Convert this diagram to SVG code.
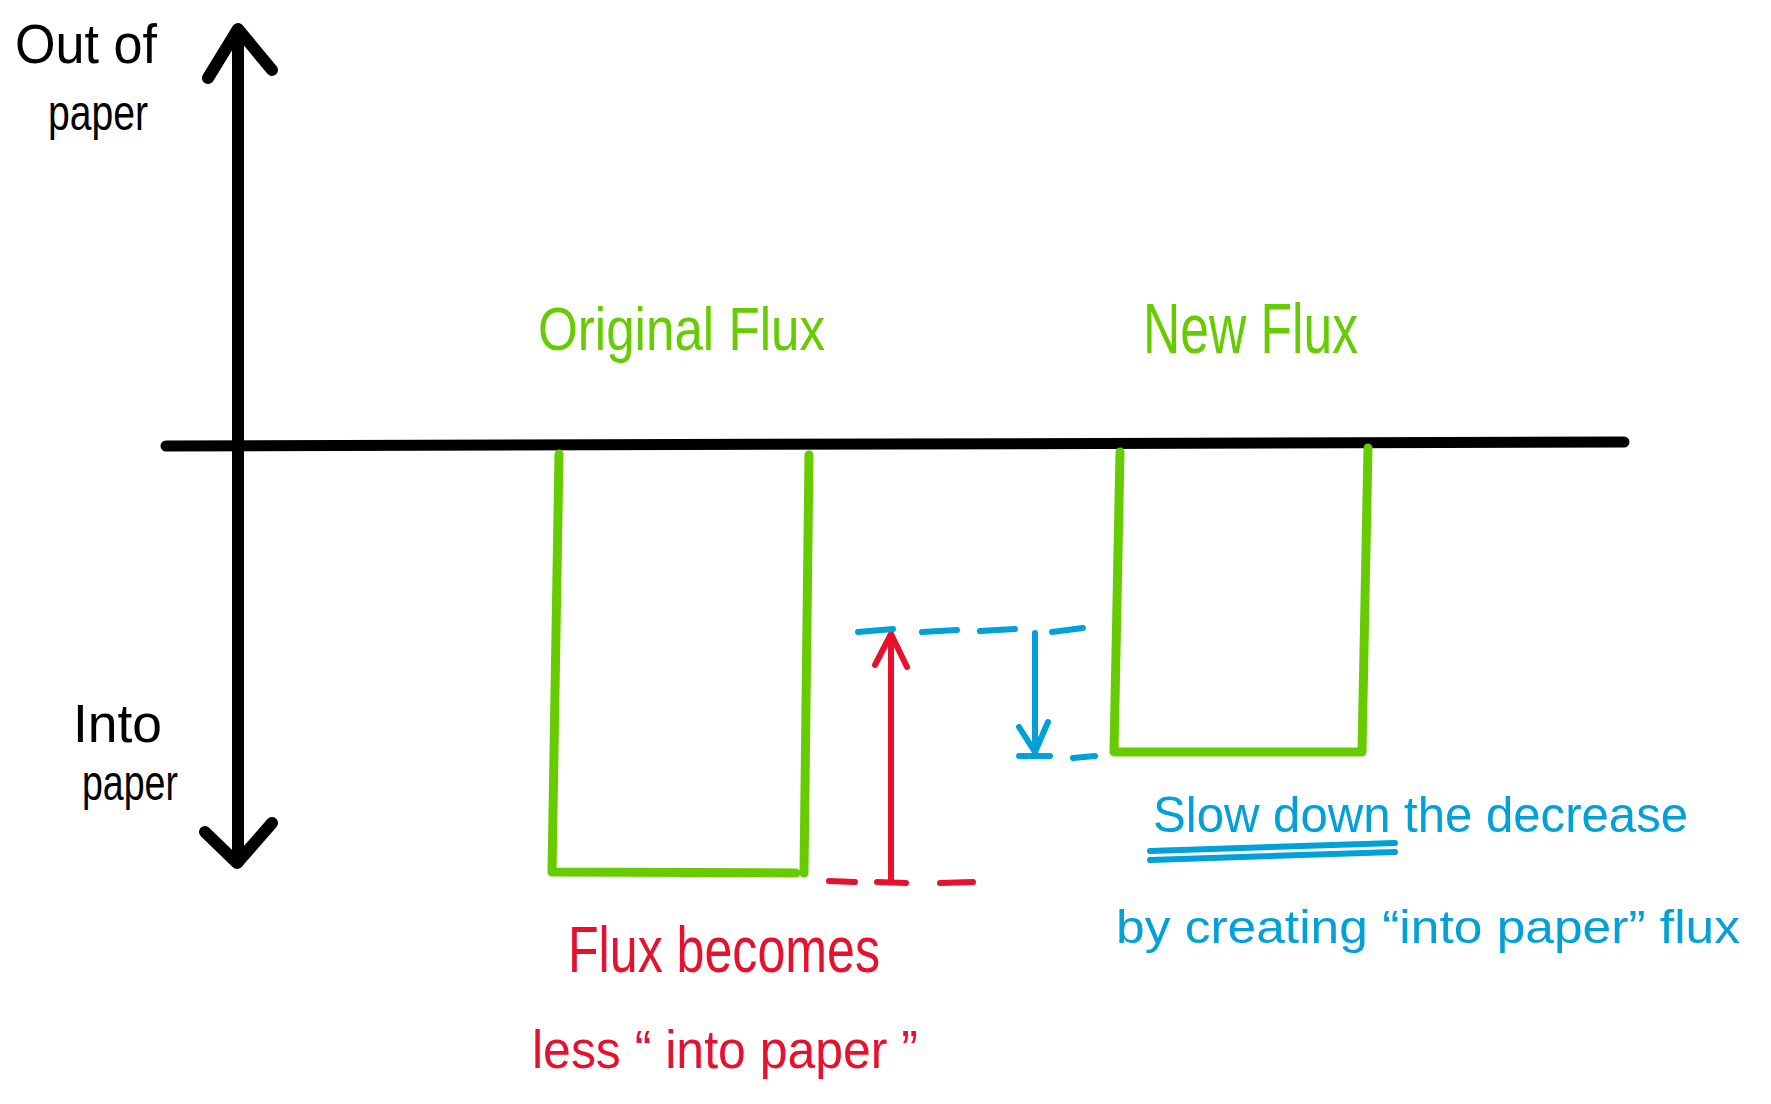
<svg xmlns="http://www.w3.org/2000/svg" width="1771" height="1104" viewBox="0 0 1771 1104">
<style>
.t{font-family:"Liberation Sans","DejaVu Sans",sans-serif;}
.k{fill:#000;}
.g{fill:#66cc00;}
.r{fill:#e8112d;}
.b{fill:#00a0d8;}
.sk{stroke:#000;fill:none;stroke-linecap:round;stroke-linejoin:round;}
.sg{stroke:#66cc00;fill:none;stroke-width:9;stroke-linecap:round;stroke-linejoin:round;}
.sr{stroke:#e8112d;fill:none;stroke-width:6;stroke-linecap:round;stroke-linejoin:round;}
.sb{stroke:#00a0d8;fill:none;stroke-width:6;stroke-linecap:round;stroke-linejoin:round;}
</style>
<rect width="1771" height="1104" fill="#fff"/>
<g id="axes">
<line class="sk" x1="238" y1="30" x2="238" y2="862" stroke-width="12"/>
<polyline class="sk" points="208,78 238,29 272,70" stroke-width="12"/>
<polyline class="sk" points="205,832 237,863 272,823" stroke-width="12"/>
<line class="sk" x1="166" y1="446" x2="1624" y2="442" stroke-width="11"/>
</g>
<g id="original-flux">
<polyline class="sg" points="559,454 552,872 796,873"/>
<line class="sg" x1="809" y1="455" x2="804" y2="873"/>
</g>
<g id="new-flux">
<polyline class="sg" points="1120,452 1114,752 1362,752 1368,448"/>
</g>
<g id="connectors">
<g id="red-arrow">
<line class="sr" x1="891" y1="635" x2="891" y2="882"/>
<polyline class="sr" points="875,665 891,634 907,667"/>
<line class="sr" x1="829" y1="881" x2="855" y2="882"/>
<line class="sr" x1="877" y1="882" x2="906" y2="883"/>
<line class="sr" x1="940" y1="883" x2="973" y2="882"/>
</g>
<g id="blue-arrow">
<line class="sb" x1="858" y1="632" x2="893" y2="629"/>
<line class="sb" x1="922" y1="632" x2="957" y2="630"/>
<line class="sb" x1="980" y1="631" x2="1015" y2="629"/>
<line class="sb" x1="1052" y1="632" x2="1083" y2="628"/>
<line class="sb" x1="1035" y1="633" x2="1035" y2="752"/>
<polyline class="sb" points="1019,727 1035,752 1048,722"/>
<line class="sb" x1="1019" y1="756" x2="1050" y2="756"/>
<line class="sb" x1="1073" y1="758" x2="1095" y2="756"/>
<line class="sb" x1="1150" y1="851" x2="1395" y2="843" stroke-width="5"/>
<line class="sb" x1="1150" y1="860" x2="1395" y2="852" stroke-width="5"/>
</g>
</g>
<g id="label-out">
<text class="t k" x="15" y="63" font-size="56" textLength="142" lengthAdjust="spacingAndGlyphs">Out of</text>
<text class="t k" x="48" y="130" font-size="50" textLength="100" lengthAdjust="spacingAndGlyphs">paper</text>
</g>
<g id="label-into">
<text class="t k" x="73" y="742" font-size="54" textLength="89" lengthAdjust="spacingAndGlyphs">Into</text>
<text class="t k" x="82" y="800" font-size="50" textLength="96" lengthAdjust="spacingAndGlyphs">paper</text>
</g>
<g id="label-original">
<text class="t g" x="538" y="350" font-size="62" textLength="287" lengthAdjust="spacingAndGlyphs">Original Flux</text>
</g>
<g id="label-new">
<text class="t g" x="1143" y="353" font-size="70" textLength="215" lengthAdjust="spacingAndGlyphs">New Flux</text>
</g>
<g id="label-red">
<text class="t r" x="568" y="972" font-size="64" textLength="312" lengthAdjust="spacingAndGlyphs">Flux becomes</text>
<text class="t r" x="532" y="1068" font-size="54" textLength="386" lengthAdjust="spacingAndGlyphs">less “ into paper ”</text>
</g>
<g id="label-blue">
<text class="t b" x="1153" y="832" font-size="50" textLength="535" lengthAdjust="spacingAndGlyphs">Slow down the decrease</text>
<text class="t b" x="1116" y="943" font-size="46" textLength="624" lengthAdjust="spacingAndGlyphs">by creating “into paper” flux</text>
</g>
</svg>
